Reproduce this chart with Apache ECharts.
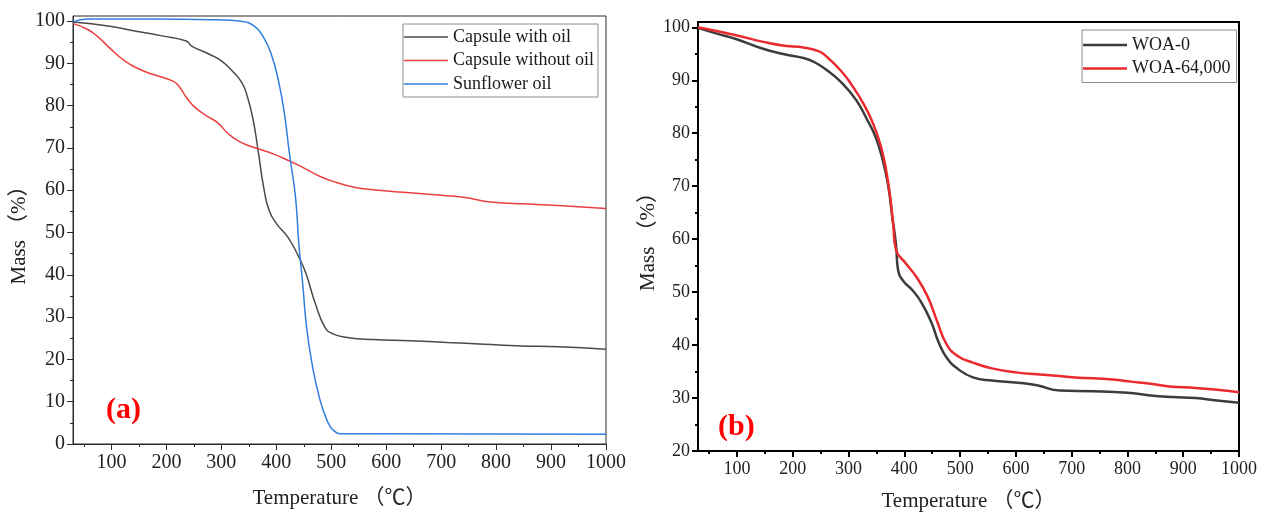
<!DOCTYPE html>
<html>
<head>
<meta charset="utf-8">
<script src="https://cdn.jsdelivr.net/npm/echarts@6/dist/echarts.min.js"></script>
<style>
  html, body { margin: 0; padding: 0; background: #fff; }
  #chart { width: 1266px; height: 517px; }
</style>
</head>
<body>
<div id="chart"></div>
<script>
// TGA curves, temperature in °C, mass in %

// (a) capsule with oil
const tempWithOil = [30, 97, 145, 192, 236, 246, 279, 300, 320, 337, 347, 357, 367, 377, 387, 401, 421, 441, 454, 471, 488, 502, 529, 576, 643, 711, 778, 845, 913, 1000];
const massWithOil = [99.8, 98.8, 97.6, 96.5, 95.3, 94.1, 92.1, 90.6, 88.2, 85.5, 82.3, 77.2, 69.3, 60.7, 55.2, 52.0, 48.9, 44.2, 40.3, 33.2, 27.7, 26.1, 25.2, 24.7, 24.4, 24.0, 23.6, 23.2, 23.0, 22.4];

// (a) capsule without oil
const tempNoOil = [30, 57, 77, 97, 124, 151, 178, 212, 222, 239, 252, 273, 293, 313, 333, 360, 394, 421, 448, 481, 508, 542, 576, 643, 711, 744, 778, 812, 845, 913, 1000];
const massNoOil = [99.4, 98.0, 96.1, 93.6, 90.6, 88.6, 87.3, 85.8, 84.7, 81.5, 79.6, 77.6, 76.0, 73.3, 71.5, 70.1, 68.6, 67.1, 65.4, 63.2, 61.9, 60.7, 60.1, 59.4, 58.7, 58.3, 57.4, 57.0, 56.8, 56.4, 55.7];

// (a) sunflower oil
const tempOil = [30, 57, 172, 293, 333, 360, 377, 391, 404, 414, 424, 435, 441, 448, 455, 465, 478, 492, 505, 522, 576, 1000];
const massOil = [99.8, 100.5, 100.5, 100.3, 100.0, 98.8, 96.1, 92.1, 85.8, 78.8, 68.6, 58.3, 47.3, 37.9, 27.7, 19.0, 11.2, 5.7, 3.1, 2.4, 2.4, 2.3];

// (b) WOA-0
const tempWoa0 = [30, 64, 98, 145, 185, 219, 239, 260, 287, 314, 334, 348, 361, 371, 378, 385, 389, 398, 415, 432, 449, 462, 476, 496, 523, 557, 604, 638, 679, 739, 800, 841, 881, 922, 956, 1000];
const massWoa0 = [99.9, 98.8, 97.8, 96.0, 94.9, 94.2, 93.4, 92.0, 89.6, 86.2, 82.4, 79.4, 75.0, 70.1, 64.5, 59.0, 54.0, 52.1, 50.3, 47.8, 44.1, 40.4, 37.6, 35.5, 33.9, 33.3, 32.9, 32.4, 31.4, 31.3, 31.0, 30.5, 30.2, 30.0, 29.6, 29.1];

// (b) WOA-64,000
const tempWoa64 = [30, 98, 145, 185, 219, 246, 260, 287, 307, 327, 344, 358, 368, 375, 380, 385, 402, 422, 442, 459, 476, 496, 523, 557, 604, 638, 672, 706, 773, 807, 841, 875, 922, 956, 1000];
const massWoa64 = [100.0, 98.5, 97.3, 96.5, 96.2, 95.5, 94.5, 91.7, 88.9, 85.5, 81.8, 77.5, 72.6, 67.6, 62.7, 58.0, 55.5, 52.8, 49.1, 44.4, 40.1, 37.9, 36.7, 35.6, 34.8, 34.5, 34.2, 33.9, 33.5, 33.1, 32.7, 32.2, 31.9, 31.6, 31.1];

// tick values
const tempTicks = [100, 200, 300, 400, 500, 600, 700, 800, 900, 1000];
const tempMinor = [50, 150, 250, 350, 450, 550, 650, 750, 850, 950];
const massTicksA = [0, 10, 20, 30, 40, 50, 60, 70, 80, 90, 100];
const massMinorA = [5, 15, 25, 35, 45, 55, 65, 75, 85, 95];
const massTicksB = [20, 30, 40, 50, 60, 70, 80, 90, 100];
const massMinorB = [25, 35, 45, 55, 65, 75, 85, 95];

const zip = (xs, ys) => xs.map((x, i) => [x, ys[i]]);

const SERIF = '"Liberation Serif", "Times New Roman", "Noto Sans CJK SC", serif';
const chart = echarts.init(document.getElementById('chart'), null, { renderer: 'canvas' });

function mainX(grid, ticks, fontSize, lineColor, lineWidth, nameGap) {
  return {
    type: 'value', gridIndex: grid, position: 'bottom', min: 30, max: 1000,
    axisLine: { show: true, onZero: false, lineStyle: { color: lineColor, width: lineWidth } },
    axisTick: { show: true, customValues: ticks, length: 6, lineStyle: { color: lineColor, width: lineWidth } },
    axisLabel: { customValues: ticks, formatter: v => String(v), fontFamily: SERIF, fontSize: fontSize, color: '#222', margin: 9 },
    splitLine: { show: false },
    name: 'Temperature （℃）', nameLocation: 'middle', nameGap: nameGap,
    nameTextStyle: { fontFamily: SERIF, fontSize: 21, color: '#222' }
  };
}
function minorX(grid, ticks, lineColor, lineWidth) {
  return {
    type: 'value', gridIndex: grid, position: 'bottom', min: 30, max: 1000,
    axisLine: { show: false },
    axisTick: { show: true, customValues: ticks, length: 3, lineStyle: { color: lineColor, width: lineWidth } },
    axisLabel: { show: false }, splitLine: { show: false }
  };
}
function mainY(grid, min, max, ticks, fontSize, lineColor, lineWidth, nameGap) {
  return {
    type: 'value', gridIndex: grid, position: 'left', min: min, max: max,
    axisLine: { show: true, onZero: false, lineStyle: { color: lineColor, width: lineWidth } },
    axisTick: { show: true, customValues: ticks, length: 6, lineStyle: { color: lineColor, width: lineWidth } },
    axisLabel: { customValues: ticks, formatter: v => String(v), fontFamily: SERIF, fontSize: fontSize, color: '#222', margin: 8 },
    splitLine: { show: false },
    name: 'Mass （%）', nameLocation: 'middle', nameGap: nameGap,
    nameTextStyle: { fontFamily: SERIF, fontSize: 21, color: '#222' }
  };
}
function minorY(grid, min, max, ticks, lineColor, lineWidth) {
  return {
    type: 'value', gridIndex: grid, position: 'left', min: min, max: max,
    axisLine: { show: false },
    axisTick: { show: true, customValues: ticks, length: 3, lineStyle: { color: lineColor, width: lineWidth } },
    axisLabel: { show: false }, splitLine: { show: false }
  };
}
function curve(name, xi, yi, xs, ys, color, width) {
  return {
    name: name, type: 'line', xAxisIndex: xi, yAxisIndex: yi,
    data: zip(xs, ys), showSymbol: false, symbol: 'none',
    smooth: 0.5,
    lineStyle: { color: color, width: width }, itemStyle: { color: color }
  };
}

const legendBase = {
  orient: 'vertical', backgroundColor: '#fff', borderColor: '#8c8c8c', borderWidth: 1,
  icon: 'rect', itemWidth: 44, itemGap: 3.5, selectedMode: false,
  textStyle: { fontFamily: SERIF, fontSize: 18, lineHeight: 20, color: '#1a1a1a' }
};

chart.setOption({
  animation: false,
  backgroundColor: '#fff',
  grid: [
    { left: 73, top: 16, width: 533, height: 428, show: true, borderColor: '#2b2b2b', borderWidth: 1, backgroundColor: 'transparent' },
    { left: 698, top: 22, width: 541, height: 437, show: true, borderColor: '#000', borderWidth: 2, backgroundColor: 'transparent' }
  ],
  xAxis: [
    mainX(0, tempTicks, 20, '#2b2b2b', 1, 44),
    minorX(0, tempMinor, '#2b2b2b', 1),
    mainX(1, tempTicks, 18, '#000', 2, 40),
    minorX(1, tempMinor, '#000', 2)
  ],
  yAxis: [
    mainY(0, 0, 101.2, massTicksA, 20, '#2b2b2b', 1, 43),
    minorY(0, 0, 101.2, massMinorA, '#2b2b2b', 1),
    mainY(1, 20, 101, massTicksB, 18, '#000', 2, 38),
    minorY(1, 20, 101, massMinorB, '#000', 2)
  ],
  legend: [
    Object.assign({}, legendBase, {
      left: 403, top: 24, padding: [3, 4, 3, 1], itemHeight: 1.5,
      data: ['Capsule with oil', 'Capsule without oil', 'Sunflower oil']
    }),
    Object.assign({}, legendBase, {
      left: 1082, top: 30, padding: [5, 6, 4, 1], itemHeight: 2.5,
      data: ['WOA-0', 'WOA-64,000']
    })
  ],
  series: [
    curve('Capsule with oil', 0, 0, tempWithOil, massWithOil, '#4a4a4a', 1.5),
    curve('Capsule without oil', 0, 0, tempNoOil, massNoOil, '#ec4040', 1.5),
    curve('Sunflower oil', 0, 0, tempOil, massOil, '#2f7ee0', 1.5),
    curve('WOA-0', 2, 2, tempWoa0, massWoa0, '#3c3c3c', 2.5),
    curve('WOA-64,000', 2, 2, tempWoa64, massWoa64, '#ea2a2e', 2.5)
  ],
  graphic: [
    { type: 'text', left: 106, top: 395, style: { text: '(a)', fill: '#ff0000', font: 'bold 30px "Liberation Serif", serif' } },
    { type: 'text', left: 718, top: 412, style: { text: '(b)', fill: '#ff0000', font: 'bold 30px "Liberation Serif", serif' } }
  ]
});
window.addEventListener('resize', () => chart.resize());
</script>
</body>
</html>
